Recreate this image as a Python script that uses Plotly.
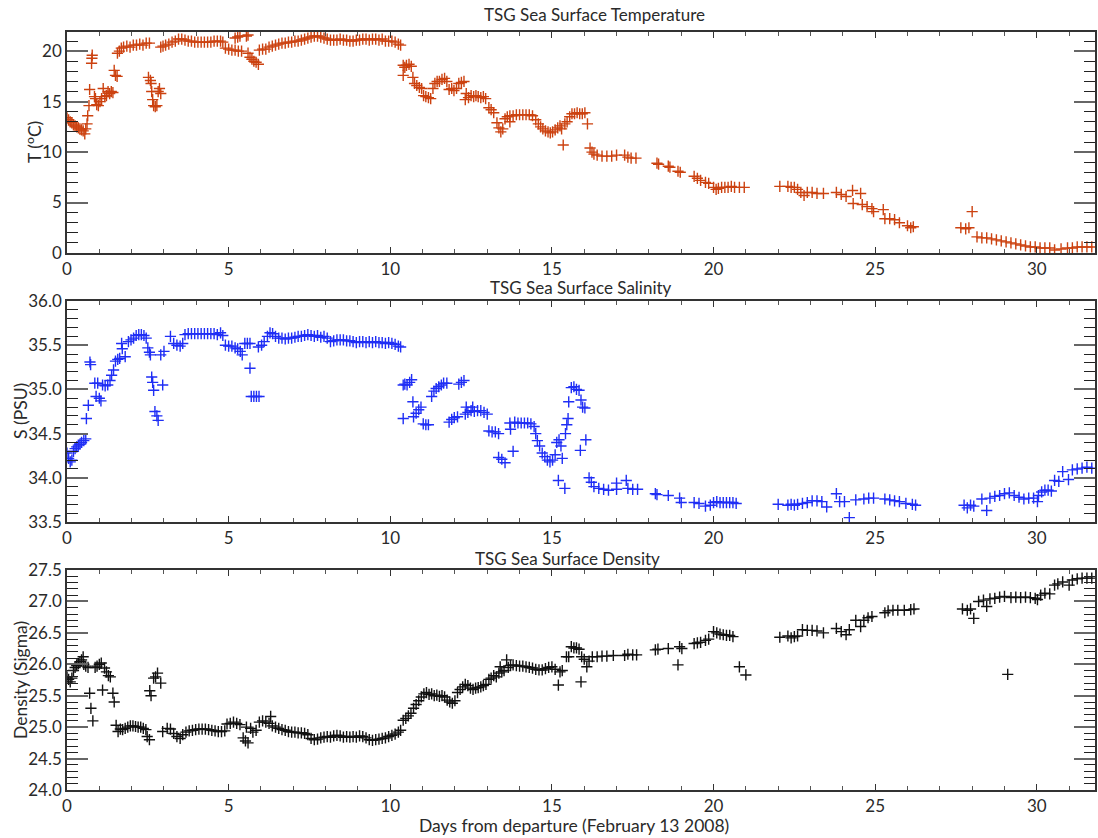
import plotly.graph_objects as go

# ---------------- data (day from departure, value) ----------------
temp_points = [
    (0.00, 13.4), (0.05, 13.2), (0.10, 13.0), (0.15, 12.9), (0.20, 12.7), (0.25, 12.6), (0.30, 12.5),
    (0.35, 12.4), (0.40, 12.3), (0.45, 12.2), (0.50, 12.1), (0.55, 11.8), (0.58, 12.3), (0.62, 12.8),
    (0.64, 13.6), (0.68, 14.6), (0.70, 16.2), (0.76, 18.8), (0.77, 19.3), (0.78, 19.6), (0.85, 15.5),
    (0.88, 15.3), (0.92, 14.7), (0.97, 14.6), (1.02, 15.0), (1.07, 15.3), (1.12, 16.3), (1.17, 15.5),
    (1.22, 15.6), (1.27, 16.0), (1.32, 15.8), (1.37, 16.0), (1.42, 15.9), (1.46, 18.1), (1.50, 17.6),
    (1.55, 17.5), (1.56, 19.8), (1.62, 20.0), (1.68, 20.3), (1.75, 20.4), (1.85, 20.5), (1.95, 20.4),
    (2.05, 20.6), (2.15, 20.6), (2.25, 20.7), (2.35, 20.6), (2.45, 20.8), (2.55, 20.8),
    (2.52, 17.4), (2.58, 17.1), (2.60, 16.8), (2.62, 16.0), (2.65, 15.2), (2.68, 14.6), (2.73, 14.5),
    (2.78, 14.6), (2.82, 16.0), (2.86, 16.3), (2.90, 15.8),
    (2.90, 20.4), (2.97, 20.5), (3.05, 20.6), (3.15, 20.7), (3.25, 20.9), (3.35, 21.0), (3.45, 21.2),
    (3.55, 21.2), (3.65, 21.1), (3.75, 21.0), (3.85, 21.0), (3.95, 20.9), (4.05, 20.9), (4.15, 20.9),
    (4.25, 20.9), (4.35, 20.9), (4.45, 20.9), (4.55, 21.0), (4.65, 21.0), (4.75, 21.0), (4.82, 20.9),
    (4.90, 20.3), (5.00, 20.2), (5.10, 20.1), (5.20, 20.1), (5.30, 20.0), (5.40, 20.0), (5.20, 21.3),
    (5.28, 21.4), (5.35, 21.5), (5.55, 21.5), (5.60, 21.6),
    (5.60, 19.8), (5.66, 19.4), (5.72, 19.2), (5.78, 19.0), (5.85, 18.9), (5.92, 18.7),
    (5.95, 20.1), (6.05, 20.2), (6.15, 20.2), (6.25, 20.4), (6.35, 20.5), (6.45, 20.6), (6.55, 20.7),
    (6.65, 20.8), (6.75, 20.8), (6.85, 20.9), (6.95, 20.9), (7.05, 21.0), (7.15, 21.0), (7.25, 21.1),
    (7.35, 21.2), (7.45, 21.3), (7.55, 21.4), (7.65, 21.5), (7.75, 21.5), (7.85, 21.4), (7.95, 21.3),
    (8.05, 21.2), (8.15, 21.1), (8.25, 21.1), (8.35, 21.1), (8.45, 21.2), (8.55, 21.1), (8.65, 21.1),
    (8.75, 21.0), (8.85, 21.0), (8.95, 21.1), (9.05, 21.1), (9.15, 21.2), (9.25, 21.2), (9.35, 21.1),
    (9.45, 21.2), (9.55, 21.2), (9.65, 21.1), (9.75, 21.2), (9.85, 21.0), (9.95, 21.0), (10.05, 21.0),
    (10.15, 20.9), (10.25, 20.7), (10.32, 20.6),
    (10.40, 18.6), (10.45, 18.4), (10.50, 18.6), (10.58, 18.7), (10.65, 18.5), (10.40, 17.6),
    (10.70, 17.4), (10.75, 16.8), (10.82, 16.6), (10.90, 16.4), (10.97, 16.3), (11.03, 15.6),
    (11.10, 15.5), (11.18, 15.4), (11.25, 15.3), (11.32, 16.3), (11.38, 16.8), (11.45, 17.0),
    (11.52, 17.0), (11.60, 17.2), (11.68, 17.3), (11.75, 17.0), (11.82, 16.2), (11.90, 16.3),
    (11.97, 16.1), (12.05, 16.3), (12.12, 16.8), (12.20, 16.9), (12.28, 17.0), (12.35, 15.8),
    (12.32, 15.2), (12.42, 15.4), (12.50, 15.6), (12.58, 15.5), (12.65, 15.6), (12.72, 15.5),
    (12.80, 15.4), (12.88, 15.5), (12.95, 15.3), (13.05, 14.4), (13.12, 14.2), (13.20, 13.9),
    (13.30, 12.9), (13.36, 12.4), (13.42, 12.0), (13.48, 12.3), (13.55, 13.3), (13.62, 13.5),
    (13.70, 13.6), (13.70, 13.0), (13.80, 13.6), (13.90, 13.7), (14.00, 13.7), (14.10, 13.7),
    (14.20, 13.7), (14.30, 13.7), (14.40, 13.6), (14.50, 13.2), (14.58, 12.8), (14.65, 12.5),
    (14.72, 12.3), (14.80, 12.1), (14.88, 12.0), (14.95, 11.9), (15.02, 12.0), (15.10, 12.2),
    (15.18, 12.4), (15.25, 12.6), (15.30, 12.3), (15.35, 10.7), (15.40, 12.8), (15.47, 13.0),
    (15.55, 13.5), (15.62, 13.8), (15.70, 13.8), (15.78, 13.9), (15.86, 13.8), (15.94, 13.8),
    (16.02, 13.9), (16.10, 12.8), (16.18, 10.4), (16.24, 10.0), (16.30, 9.8), (16.40, 9.7),
    (16.55, 9.6), (16.70, 9.6), (16.85, 9.6), (17.00, 9.7), (17.25, 9.7), (17.35, 9.5), (17.45, 9.4),
    (17.60, 9.4), (18.25, 8.9), (18.30, 8.8), (18.60, 8.6), (18.65, 8.5), (18.90, 8.1), (18.97, 8.0),
    (19.40, 7.6), (19.50, 7.4), (19.60, 7.2), (19.75, 7.0), (19.85, 6.9), (20.00, 6.5), (20.08, 6.3),
    (20.15, 6.4), (20.25, 6.5), (20.35, 6.5), (20.45, 6.5), (20.55, 6.6), (20.65, 6.5), (20.80, 6.5),
    (20.95, 6.5),
    (22.05, 6.6), (22.30, 6.6), (22.40, 6.5), (22.50, 6.5), (22.60, 6.3), (22.70, 6.0), (22.80, 5.7),
    (22.90, 6.0), (23.05, 6.0), (23.20, 5.9), (23.40, 5.9), (23.80, 6.0), (23.95, 5.8), (24.10, 5.6),
    (24.30, 6.2), (24.32, 4.9), (24.55, 5.9), (24.60, 4.8), (24.75, 4.6), (24.90, 4.4), (24.95, 4.1),
    (25.25, 4.3), (25.30, 3.4), (25.45, 3.4), (25.60, 3.3), (25.75, 3.0), (26.00, 2.7), (26.10, 2.5),
    (26.18, 2.6),
    (27.65, 2.5), (27.80, 2.4), (27.90, 2.5), (28.00, 4.1), (28.15, 1.6), (28.30, 1.5), (28.45, 1.5),
    (28.60, 1.4), (28.75, 1.3), (28.90, 1.2), (29.05, 1.1), (29.20, 1.0), (29.35, 0.9), (29.50, 0.8),
    (29.65, 0.7), (29.80, 0.6), (29.95, 0.6), (30.10, 0.5), (30.25, 0.5), (30.40, 0.5), (30.55, 0.3),
    (30.75, 0.4), (30.95, 0.5), (31.10, 0.5), (31.25, 0.6), (31.40, 0.6), (31.55, 0.6), (31.70, 0.6),
]

sal_points = [
    (0.00, 34.28), (0.05, 34.22), (0.10, 34.18), (0.15, 34.20), (0.20, 34.30), (0.25, 34.33),
    (0.30, 34.35), (0.35, 34.37), (0.40, 34.38), (0.45, 34.40), (0.52, 34.42), (0.58, 34.44),
    (0.60, 34.67), (0.66, 34.82), (0.71, 35.31), (0.73, 35.28), (0.86, 35.07), (0.90, 34.92),
    (0.95, 35.07), (1.00, 34.90), (1.05, 34.87), (1.10, 35.05), (1.18, 35.04), (1.26, 35.05),
    (1.33, 35.10), (1.38, 35.16), (1.44, 35.22), (1.50, 35.32), (1.57, 35.34), (1.63, 35.35),
    (1.69, 35.52), (1.71, 35.46), (1.80, 35.37), (1.90, 35.54), (1.98, 35.56), (2.06, 35.58),
    (2.14, 35.61), (2.22, 35.62), (2.30, 35.62), (2.38, 35.61), (2.45, 35.58), (2.50, 35.47),
    (2.55, 35.42), (2.58, 35.39), (2.62, 35.14), (2.65, 35.08), (2.68, 34.99), (2.72, 34.75),
    (2.78, 34.70), (2.82, 34.65), (2.90, 35.39), (2.96, 35.05), (3.00, 35.43), (3.20, 35.60),
    (3.30, 35.52), (3.40, 35.50), (3.50, 35.49), (3.58, 35.52), (3.65, 35.62), (3.75, 35.63),
    (3.85, 35.63), (3.95, 35.63), (4.05, 35.63), (4.15, 35.63), (4.25, 35.63), (4.35, 35.63),
    (4.45, 35.63), (4.55, 35.63), (4.65, 35.62), (4.75, 35.64), (4.82, 35.61), (4.90, 35.50),
    (5.00, 35.49), (5.10, 35.49), (5.20, 35.47), (5.28, 35.46), (5.36, 35.43), (5.42, 35.39),
    (5.50, 35.52), (5.58, 35.52), (5.66, 35.52), (5.66, 35.24), (5.70, 34.92), (5.78, 34.92),
    (5.86, 34.92), (5.94, 34.92), (5.92, 35.48), (6.02, 35.50), (6.10, 35.54), (6.20, 35.60),
    (6.28, 35.64), (6.36, 35.63), (6.45, 35.60), (6.55, 35.58), (6.65, 35.58), (6.75, 35.57),
    (6.85, 35.58), (6.95, 35.58), (7.05, 35.59), (7.15, 35.60), (7.25, 35.60), (7.35, 35.61),
    (7.45, 35.62), (7.55, 35.61), (7.65, 35.60), (7.75, 35.61), (7.85, 35.59), (7.95, 35.60),
    (8.05, 35.58), (8.15, 35.54), (8.25, 35.55), (8.35, 35.56), (8.45, 35.56), (8.55, 35.56),
    (8.65, 35.55), (8.75, 35.55), (8.85, 35.54), (8.95, 35.53), (9.05, 35.54), (9.15, 35.54),
    (9.25, 35.53), (9.35, 35.54), (9.45, 35.53), (9.55, 35.54), (9.65, 35.53), (9.75, 35.53),
    (9.85, 35.52), (9.95, 35.53), (10.05, 35.52), (10.15, 35.51), (10.25, 35.49), (10.32, 35.48),
    (10.40, 35.05), (10.45, 35.06), (10.52, 35.05), (10.60, 35.08), (10.66, 35.11), (10.40, 34.67),
    (10.70, 34.86), (10.72, 34.69), (10.80, 34.73), (10.88, 34.77), (10.95, 34.80), (11.02, 34.61),
    (11.10, 34.60), (11.18, 34.60), (11.28, 34.92), (11.35, 34.98), (11.42, 35.01), (11.50, 35.03),
    (11.58, 35.05), (11.65, 35.07), (11.75, 35.07), (11.82, 34.63), (11.90, 34.66), (11.98, 34.68),
    (12.08, 34.69), (12.12, 35.06), (12.20, 35.08), (12.28, 35.10), (12.35, 34.80), (12.55, 34.80),
    (12.32, 34.72), (12.40, 34.74), (12.50, 34.76), (12.60, 34.75), (12.70, 34.76), (12.80, 34.76),
    (12.90, 34.74), (13.00, 34.72), (13.05, 34.53), (13.15, 34.52), (13.25, 34.52), (13.35, 34.50),
    (13.35, 34.23), (13.45, 34.21), (13.55, 34.17), (13.70, 34.62), (13.72, 34.55), (13.80, 34.30),
    (13.85, 34.63), (13.95, 34.62), (14.05, 34.62), (14.15, 34.62), (14.25, 34.62), (14.35, 34.61),
    (14.45, 34.58), (14.50, 34.50), (14.55, 34.42), (14.62, 34.36), (14.70, 34.28), (14.78, 34.24),
    (14.86, 34.20), (14.94, 34.18), (15.02, 34.20), (15.10, 34.26), (15.15, 34.40), (15.22, 34.43),
    (15.28, 34.36), (15.32, 34.22), (15.20, 33.97), (15.40, 33.88), (15.42, 34.50), (15.46, 34.60),
    (15.50, 34.67), (15.52, 34.86), (15.60, 35.02), (15.68, 35.03), (15.76, 35.00), (15.84, 34.99),
    (15.90, 34.88), (15.95, 34.80), (16.02, 34.79), (15.88, 34.31), (16.05, 34.43), (16.15, 34.00),
    (16.22, 33.95), (16.30, 33.90), (16.45, 33.88), (16.60, 33.87), (16.75, 33.86), (17.00, 33.94),
    (17.00, 33.87), (17.30, 33.97), (17.35, 33.88), (17.50, 33.87), (17.65, 33.87), (18.20, 33.82),
    (18.25, 33.81), (18.60, 33.80), (18.95, 33.77), (19.00, 33.72), (19.40, 33.72), (19.55, 33.71),
    (19.75, 33.68), (19.90, 33.69), (20.00, 33.72), (20.10, 33.73), (20.20, 33.72), (20.30, 33.72),
    (20.40, 33.72), (20.50, 33.72), (20.60, 33.72), (20.70, 33.71),
    (22.00, 33.70), (22.30, 33.69), (22.40, 33.70), (22.50, 33.69), (22.60, 33.70), (22.75, 33.71),
    (22.90, 33.72), (23.05, 33.74), (23.20, 33.74), (23.35, 33.73), (23.50, 33.67), (23.80, 33.82),
    (23.90, 33.73), (24.05, 33.73), (24.20, 33.55), (24.40, 33.75), (24.65, 33.76), (24.80, 33.77),
    (24.95, 33.77), (25.30, 33.76), (25.45, 33.75), (25.60, 33.74), (25.75, 33.73), (25.95, 33.71),
    (26.15, 33.70), (26.25, 33.69),
    (27.75, 33.69), (27.85, 33.66), (27.95, 33.69), (28.05, 33.68), (28.45, 33.63), (28.30, 33.76),
    (28.55, 33.77), (28.70, 33.79), (28.85, 33.80), (29.00, 33.82), (29.15, 33.83), (29.30, 33.80),
    (29.45, 33.78), (29.60, 33.76), (29.75, 33.77), (29.90, 33.77), (30.02, 33.73), (30.05, 33.80),
    (30.15, 33.84), (30.25, 33.86), (30.35, 33.86), (30.45, 33.85), (30.55, 33.97), (30.68, 33.96),
    (30.80, 34.07), (30.98, 33.98), (31.10, 34.09), (31.25, 34.10), (31.40, 34.11), (31.55, 34.12),
    (31.70, 34.11),
]

dens_points = [
    (0.00, 25.80), (0.05, 25.76), (0.10, 25.72), (0.15, 25.78), (0.20, 25.90), (0.25, 25.95),
    (0.30, 25.98), (0.35, 26.01), (0.40, 26.04), (0.45, 26.07), (0.50, 26.12), (0.52, 26.00),
    (0.58, 25.97), (0.65, 25.95), (0.70, 25.54), (0.74, 25.30), (0.80, 25.10), (0.87, 25.95),
    (0.93, 25.97), (1.00, 26.00), (1.06, 26.02), (1.10, 25.59), (1.16, 25.94), (1.22, 25.88),
    (1.28, 25.82), (1.34, 25.80), (1.42, 25.54), (1.46, 25.40), (1.52, 25.03), (1.58, 24.93),
    (1.65, 24.97), (1.72, 24.96), (1.80, 24.98), (1.88, 25.00), (1.96, 25.02), (2.04, 25.02),
    (2.12, 25.01), (2.20, 25.00), (2.28, 25.00), (2.36, 24.98), (2.44, 24.96), (2.48, 24.85),
    (2.55, 24.80), (2.56, 25.58), (2.60, 25.50), (2.68, 25.78), (2.74, 25.80), (2.80, 25.86),
    (2.90, 25.70), (2.96, 24.93), (3.10, 24.98), (3.20, 24.97), (3.30, 24.90), (3.40, 24.85),
    (3.50, 24.82), (3.58, 24.88), (3.68, 24.92), (3.78, 24.94), (3.88, 24.95), (3.98, 24.96),
    (4.08, 24.97), (4.18, 24.97), (4.28, 24.97), (4.38, 24.96), (4.48, 24.95), (4.58, 24.94),
    (4.68, 24.93), (4.78, 24.93), (4.88, 24.94), (4.95, 25.05), (5.05, 25.06), (5.15, 25.08),
    (5.25, 25.06), (5.35, 25.04), (5.45, 24.83), (5.52, 24.78), (5.60, 24.75), (5.55, 25.00),
    (5.68, 24.98), (5.75, 24.92), (5.85, 24.95), (5.95, 25.08), (6.05, 25.10), (6.15, 25.08),
    (6.30, 25.17), (6.25, 25.06), (6.35, 25.02), (6.45, 25.00), (6.55, 24.98), (6.65, 24.96),
    (6.75, 24.95), (6.85, 24.93), (6.95, 24.92), (7.05, 24.92), (7.15, 24.91), (7.25, 24.91),
    (7.35, 24.90), (7.45, 24.88), (7.55, 24.82), (7.65, 24.80), (7.75, 24.81), (7.85, 24.83),
    (7.95, 24.84), (8.05, 24.85), (8.15, 24.84), (8.25, 24.86), (8.35, 24.87), (8.45, 24.86),
    (8.55, 24.84), (8.65, 24.85), (8.75, 24.84), (8.85, 24.85), (8.95, 24.84), (9.05, 24.86),
    (9.15, 24.85), (9.25, 24.83), (9.35, 24.80), (9.45, 24.79), (9.55, 24.80), (9.65, 24.81),
    (9.75, 24.82), (9.85, 24.83), (9.95, 24.85), (10.05, 24.87), (10.15, 24.89), (10.25, 24.92),
    (10.32, 24.95), (10.40, 25.11), (10.48, 25.14), (10.56, 25.18), (10.64, 25.22), (10.72, 25.30),
    (10.80, 25.36), (10.88, 25.42), (10.96, 25.48), (11.04, 25.53), (11.12, 25.55), (11.20, 25.52),
    (11.28, 25.53), (11.36, 25.50), (11.44, 25.51), (11.52, 25.49), (11.60, 25.50), (11.68, 25.48),
    (11.76, 25.43), (11.84, 25.40), (11.92, 25.38), (12.00, 25.42), (12.08, 25.55), (12.16, 25.60),
    (12.24, 25.64), (12.32, 25.68), (12.40, 25.66), (12.48, 25.62), (12.56, 25.60), (12.64, 25.62),
    (12.72, 25.63), (12.80, 25.64), (12.88, 25.66), (12.96, 25.68), (13.05, 25.76), (13.12, 25.78),
    (13.20, 25.82), (13.28, 25.80), (13.36, 25.86), (13.40, 25.96), (13.45, 25.88), (13.52, 25.90),
    (13.60, 26.07), (13.65, 25.95), (13.72, 25.98), (13.80, 25.99), (13.90, 25.98), (14.00, 25.97),
    (14.10, 25.97), (14.20, 25.96), (14.30, 25.95), (14.40, 25.94), (14.50, 25.92), (14.60, 25.91),
    (14.70, 25.91), (14.80, 25.93), (14.90, 25.95), (15.00, 25.96), (15.10, 25.92), (15.20, 25.67),
    (15.25, 25.88), (15.32, 25.90), (15.45, 26.12), (15.52, 26.12), (15.60, 26.28), (15.68, 26.26),
    (15.76, 26.26), (15.84, 26.24), (15.90, 25.72), (15.92, 26.12), (16.00, 26.08), (16.08, 25.96),
    (16.15, 26.05), (16.25, 26.12), (16.40, 26.12), (16.55, 26.13), (16.70, 26.13), (16.90, 26.14),
    (17.25, 26.14), (17.35, 26.16), (17.50, 26.15), (17.62, 26.15), (18.20, 26.23), (18.28, 26.24),
    (18.60, 26.25), (18.90, 25.99), (18.95, 26.28), (19.02, 26.25), (19.40, 26.33), (19.50, 26.34),
    (19.60, 26.35), (19.75, 26.38), (19.85, 26.40), (20.00, 26.52), (20.10, 26.50), (20.20, 26.48),
    (20.30, 26.47), (20.40, 26.46), (20.50, 26.46), (20.60, 26.44), (20.80, 25.96), (21.00, 25.83),
    (22.05, 26.43), (22.30, 26.45), (22.40, 26.42), (22.50, 26.44), (22.60, 26.45), (22.75, 26.55),
    (22.90, 26.54), (23.05, 26.54), (23.20, 26.53), (23.40, 26.50), (23.80, 26.57), (23.95, 26.52),
    (24.10, 26.47), (24.20, 26.55), (24.40, 26.70), (24.55, 26.60), (24.65, 26.70), (24.78, 26.74),
    (24.90, 26.76), (25.30, 26.82), (25.40, 26.85), (25.55, 26.86), (25.70, 26.86), (25.90, 26.86),
    (26.10, 26.87), (26.20, 26.88),
    (27.70, 26.88), (27.85, 26.86), (27.95, 26.88), (28.05, 26.73), (28.20, 27.00), (28.35, 27.02),
    (28.45, 26.92), (28.55, 27.04), (28.70, 27.05), (28.85, 27.07), (29.00, 27.08), (29.10, 25.84),
    (29.20, 27.06), (29.35, 27.07), (29.50, 27.06), (29.65, 27.07), (29.80, 27.06), (29.95, 27.05),
    (30.02, 27.03), (30.12, 27.10), (30.25, 27.13), (30.40, 27.12), (30.55, 27.26), (30.65, 27.28),
    (30.80, 27.31), (31.00, 27.26), (31.10, 27.34), (31.25, 27.36), (31.40, 27.37), (31.55, 27.37),
    (31.70, 27.37),
]

x_ticks = [0, 5, 10, 15, 20, 25, 30]
temp_ticks = [0, 5, 10, 15, 20]
sal_ticks = [33.5, 34.0, 34.5, 35.0, 35.5, 36.0]
dens_ticks = [24.0, 24.5, 25.0, 25.5, 26.0, 26.5, 27.0, 27.5]

titles = ["TSG Sea Surface Temperature", "TSG Sea Surface Salinity", "TSG Sea Surface Density"]
y_titles = ["T (<sup>o</sup>C)", "S (PSU)", "Density (Sigma)"]
x_title = "Days from departure (February 13 2008)"

# ---------------- figure ----------------
FONT = "Lato"
TXT = "#2a2a2a"
AX = "#333333"
W, H = 1098, 838
ML, MR, MT, MB = 67, 3, 32, 48
ph = H - MT - MB
pw = W - ML - MR

def yfrac(py):
    return (H - MB - py) / ph

def xfrac(px):
    return (px - ML) / pw

panels = [
    (temp_points, "#cc4210", temp_ticks, [0, 21.9], 1, ".0f", 32, 253),
    (sal_points, "#1f2ef5", sal_ticks, [33.5, 36.0], 0.1, ".1f", 301, 522),
    (dens_points, "#111111", dens_ticks, [24.0, 27.5], 0.1, ".1f", 570, 790),
]

fig = go.Figure()
layout = {}
for i, (pts, col, yt, yr, ydt, fmt, top, bot) in enumerate(panels):
    n = "" if i == 0 else str(i + 1)
    fig.add_trace(go.Scatter(
        x=[p[0] for p in pts], y=[p[1] for p in pts], mode="markers",
        marker=dict(symbol="cross-thin", size=8, color=col, line=dict(width=1.4, color=col)),
        xaxis="x" + n, yaxis="y" + n, showlegend=False, hoverinfo="x+y"))
    layout["xaxis" + n] = dict(
        domain=[0, 1], anchor="y" + n, range=[0, 31.8], tickvals=x_ticks,
        showline=True, linecolor=AX, linewidth=1.5, mirror="ticks",
        ticks="inside", ticklen=6, tickwidth=1.2, tickcolor=AX,
        minor=dict(dtick=1, tick0=0, ticks="inside", ticklen=4, tickwidth=1, tickcolor="#555"),
        showgrid=False, zeroline=False,
        tickfont=dict(family=FONT, size=17, color=TXT))
    layout["yaxis" + n] = dict(
        domain=[yfrac(bot), yfrac(top)], anchor="x" + n, range=yr, tickvals=yt,
        tickformat=fmt, showline=True, linecolor=AX, linewidth=1.5, mirror="ticks",
        ticks="inside", ticklen=21, tickwidth=1.5, tickcolor="#666",
        minor=dict(dtick=ydt, tick0=0, ticks="inside", ticklen=11, tickwidth=1.2, tickcolor="#222"),
        showgrid=False, zeroline=False,
        tickfont=dict(family=FONT, size=17, color=TXT))

annotations = []
title_pos = [(594, 15), (581, 287), (567, 558)]
for t, (cx, cy) in zip(titles, title_pos):
    annotations.append(dict(text=t, x=xfrac(cx), y=yfrac(cy), xref="paper", yref="paper",
                            showarrow=False, xanchor="center", yanchor="middle",
                            font=dict(family=FONT, size=17, color=TXT)))
ytitle_pos = [(33, 142), (20, 411), (20, 680)]
for t, (cx, cy) in zip(y_titles, ytitle_pos):
    annotations.append(dict(text=t, x=xfrac(cx), y=yfrac(cy), xref="paper", yref="paper",
                            showarrow=False, xanchor="center", yanchor="middle", textangle=-90,
                            font=dict(family=FONT, size=17.5, color=TXT)))
annotations.append(dict(text=x_title, x=xfrac(574), y=yfrac(825), xref="paper", yref="paper",
                        showarrow=False, xanchor="center", yanchor="middle",
                        font=dict(family=FONT, size=17.5, color=TXT)))

fig.update_layout(
    width=W, height=H, margin=dict(l=ML, r=MR, t=MT, b=MB, autoexpand=False),
    paper_bgcolor="white", plot_bgcolor="white", annotations=annotations,
    **layout)

fig.write_html("out.html", config={"displayModeBar": False},
               post_script="document.body.style.margin='0';document.body.style.overflow='hidden';")
